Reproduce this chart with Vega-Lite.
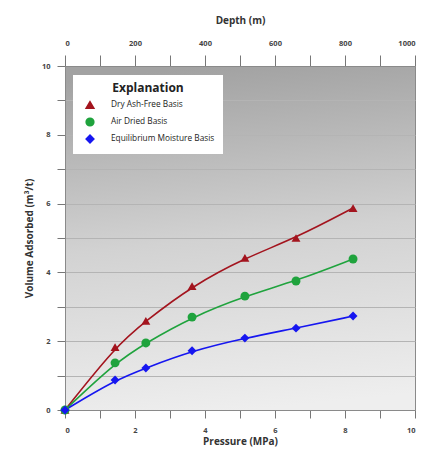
{
  "$schema": "https://vega.github.io/schema/vega-lite/v6.json",
  "width": 350,
  "height": 344,
  "autosize": {"type": "none"},
  "padding": {"left": 65, "top": 66, "right": 19, "bottom": 55},
  "background": "white",
  "config": {
    "font": "Open Sans",
    "view": {
      "stroke": "#8a8a8a",
      "strokeWidth": 1,
      "fill": {"gradient": "linear", "x1": 0.4, "y1": 0, "x2": 0.5, "y2": 1, "stops": [{"offset": 0, "color": "#a2a2a2"}, {"offset": 0.5, "color": "#d2d2d2"}, {"offset": 1, "color": "#eeeeee"}]}
    },
    "axis": {
      "labelFont": "Open Sans",
      "labelFontWeight": "bold",
      "labelFontSize": 7.5,
      "labelColor": "#444",
      "titleFont": "Open Sans",
      "titleFontWeight": "bold",
      "titleFontSize": 10,
      "titleColor": "#333",
      "tickColor": "#777",
      "domainColor": "#8a8a8a",
      "tickSize": 8
    }
  },
  "datasets": {
    "main": [
      {"series": "Dry Ash-Free Basis", "pressure": 0, "volume": 0},
      {"series": "Dry Ash-Free Basis", "pressure": 1.43, "volume": 1.83},
      {"series": "Dry Ash-Free Basis", "pressure": 2.31, "volume": 2.59},
      {"series": "Dry Ash-Free Basis", "pressure": 3.63, "volume": 3.6},
      {"series": "Dry Ash-Free Basis", "pressure": 5.14, "volume": 4.42},
      {"series": "Dry Ash-Free Basis", "pressure": 6.6, "volume": 5.0},
      {"series": "Dry Ash-Free Basis", "pressure": 8.23, "volume": 5.87},
      {"series": "Air Dried Basis", "pressure": 0, "volume": 0},
      {"series": "Air Dried Basis", "pressure": 1.43, "volume": 1.37},
      {"series": "Air Dried Basis", "pressure": 2.31, "volume": 1.95},
      {"series": "Air Dried Basis", "pressure": 3.63, "volume": 2.7},
      {"series": "Air Dried Basis", "pressure": 5.14, "volume": 3.31},
      {"series": "Air Dried Basis", "pressure": 6.6, "volume": 3.75},
      {"series": "Air Dried Basis", "pressure": 8.23, "volume": 4.39},
      {"series": "Equilibrium Moisture Basis", "pressure": 0, "volume": 0},
      {"series": "Equilibrium Moisture Basis", "pressure": 1.43, "volume": 0.87},
      {"series": "Equilibrium Moisture Basis", "pressure": 2.31, "volume": 1.22},
      {"series": "Equilibrium Moisture Basis", "pressure": 3.63, "volume": 1.72},
      {"series": "Equilibrium Moisture Basis", "pressure": 5.14, "volume": 2.09},
      {"series": "Equilibrium Moisture Basis", "pressure": 6.6, "volume": 2.38},
      {"series": "Equilibrium Moisture Basis", "pressure": 8.23, "volume": 2.73}
    ],
    "depth": [{"depth": 0}, {"depth": 1000}]
  },
  "layer": [
    {
      "data": {"name": "main"},
      "encoding": {
        "x": {"field": "pressure", "type": "quantitative", "scale": {"domain": [0, 10], "nice": false}, "axis": {"title": "Pressure (MPa)", "values": [0,1,2,3,4,5,6,7,8,9,10], "labelExpr": "datum.value % 2 == 0 ? datum.label : ''", "grid": false, "labelPadding": 8, "titlePadding": 3}},
        "y": {"field": "volume", "type": "quantitative", "scale": {"domain": [0, 10], "nice": false}, "axis": {"title": "Volume Adsorbed (m³/t)", "values": [0,1,2,3,4,5,6,7,8,9,10], "labelExpr": "datum.value % 2 == 0 ? datum.label : ''", "grid": true, "gridColor": "#b4b4b4", "gridWidth": 1, "labelPadding": 7, "titlePadding": 7}},
        "color": {"field": "series", "type": "nominal", "scale": {"domain": ["Dry Ash-Free Basis", "Air Dried Basis", "Equilibrium Moisture Basis"], "range": ["#a3141e", "#1fa33d", "#1616f0"]},
          "legend": {"title": "Explanation", "orient": "none", "legendX": 8, "legendY": 9, "fillColor": "white", "padding": 8, "titleFontSize": 12, "titleFontWeight": "bold", "titleColor": "#222", "titleAnchor": "middle", "titleFont": "Open Sans", "titlePadding": 5, "labelFont": "Open Sans", "labelFontSize": 8.3, "labelColor": "#222", "symbolSize": 60, "rowPadding": 3, "labelLimit": 200, "symbolOffset": 4, "labelOffset": 16}},
        "shape": {"field": "series", "type": "nominal", "scale": {"domain": ["Dry Ash-Free Basis", "Air Dried Basis", "Equilibrium Moisture Basis"], "range": ["triangle-up", "circle", "diamond"]},
          "legend": {"title": "Explanation", "orient": "none", "legendX": 8, "legendY": 9, "fillColor": "white", "padding": 8, "titleFontSize": 12, "titleFontWeight": "bold", "titleColor": "#222", "titleAnchor": "middle", "titleFont": "Open Sans", "titlePadding": 5, "labelFont": "Open Sans", "labelFontSize": 8.3, "labelColor": "#222", "symbolSize": 60, "rowPadding": 3, "labelLimit": 200, "symbolOffset": 4, "labelOffset": 16}}
      },
      "layer": [
        {
          "mark": {"type": "line", "interpolate": "basis", "strokeWidth": 1.6},
          "encoding": {"detail": {"field": "series"}}
        },
        {
          "mark": {"type": "point", "filled": true, "opacity": 1, "size": 80}
        }
      ]
    },
    {
      "data": {"name": "depth"},
      "mark": {"type": "point", "opacity": 0},
      "encoding": {
        "x": {"field": "depth", "type": "quantitative", "scale": {"domain": [0, 1000], "nice": false}, "axis": {"orient": "top", "title": "Depth (m)", "values": [0,100,200,300,400,500,600,700,800,900,1000], "labelExpr": "datum.value % 200 == 0 ? datum.label : ''", "format": "d", "grid": false, "tickSize": 11, "labelPadding": 8, "titlePadding": 14}},
        "y": {"value": 0}
      }
    }
  ],
  "resolve": {"scale": {"x": "independent"}, "axis": {"x": "independent"}}
}
